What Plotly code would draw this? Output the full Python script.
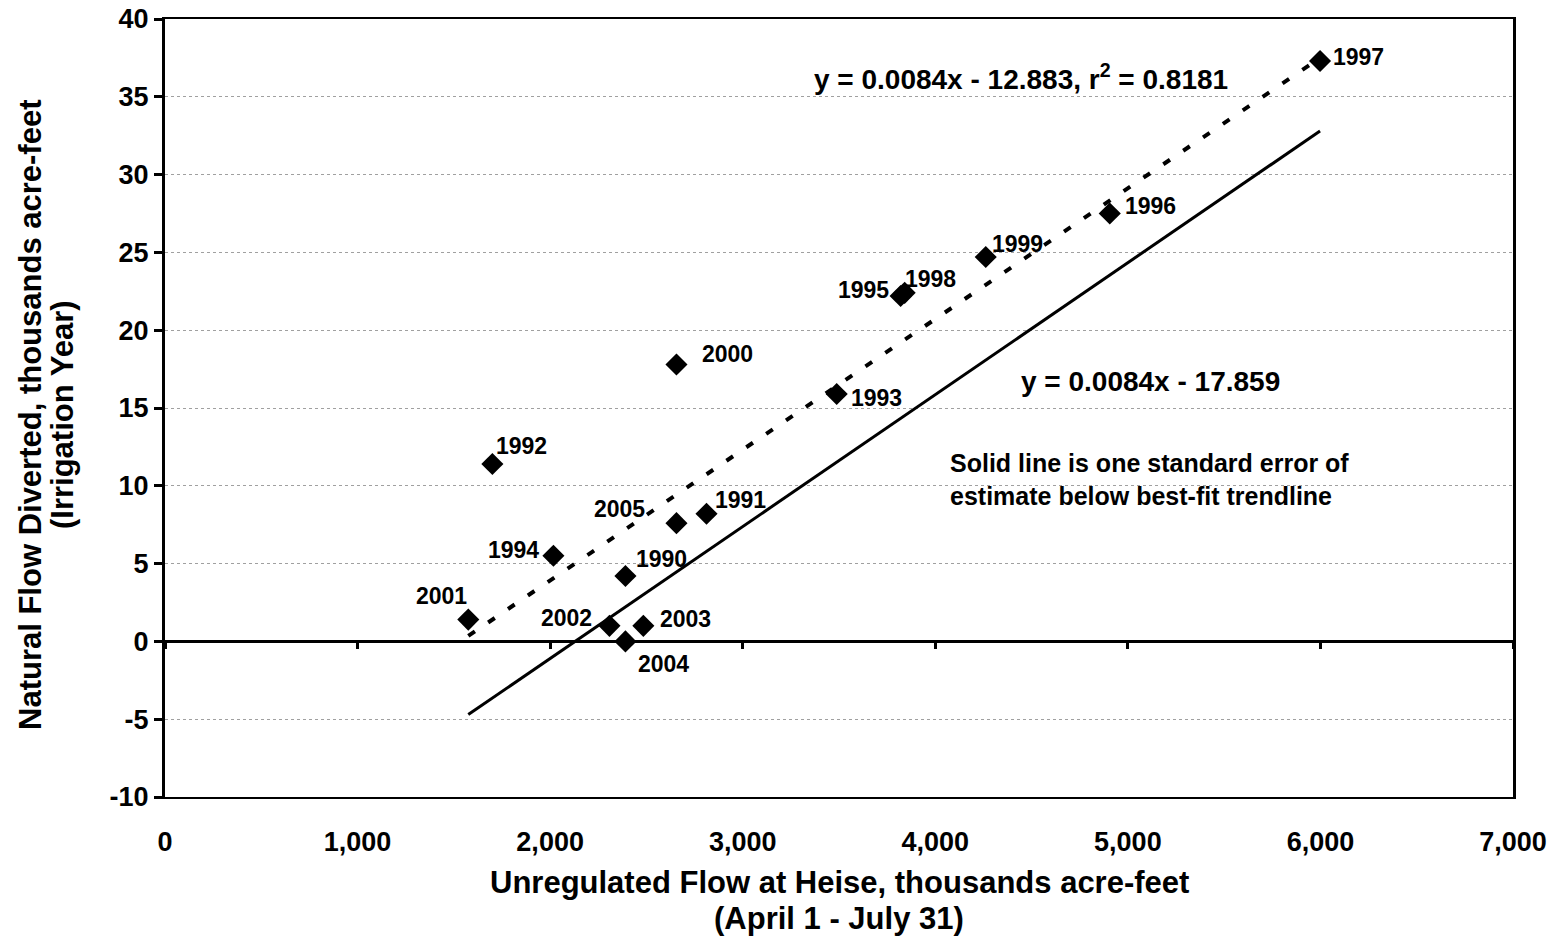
import plotly.graph_objects as go

# ---- data ----
years = ["2001", "1992", "1994", "2002", "2004", "1990", "2003", "2000", "2005",
         "1991", "1993", "1995", "1998", "1999", "1996", "1997"]
flow_heise = [1575, 1700, 2017, 2308, 2391, 2391, 2484, 2656, 2656,
              2812, 3488, 3820, 3841, 4262, 4906, 5998]
natural_flow = [1.4, 11.4, 5.5, 1.0, 0.0, 4.2, 1.0, 17.8, 7.6,
                8.2, 15.9, 22.2, 22.4, 24.7, 27.5, 37.3]

# label offsets (pixels) for each year label
label_dx = [-27, 29, -40, -43, 38, 36, 42, 51, -57, 34, 40, -37, 26, 32, 41, 38]
label_dy = [24, 18, 6, 8, -23, 17, 7, 10, 14, 14, -4, 6, 14, 13, 8, 4]

# best-fit trendline endpoints (dotted) and one-standard-error line (solid)
fit_x = [1575, 5998]
fit_y = [0.35, 37.5]
se_x = [1575, 5998]
se_y = [-4.7, 32.8]

x_ticks = [0, 1000, 2000, 3000, 4000, 5000, 6000, 7000]
x_tick_text = ["0", "1,000", "2,000", "3,000", "4,000", "5,000", "6,000", "7,000"]
y_ticks = [-10, -5, 0, 5, 10, 15, 20, 25, 30, 35, 40]
y_tick_text = ["-10", "-5", "0", "5", "10", "15", "20", "25", "30", "35", "40"]

FONT = "Liberation Sans, Arial, sans-serif"

fig = go.Figure()

fig.add_trace(go.Scatter(
    x=fit_x, y=fit_y, mode="lines",
    line=dict(color="black", width=4, dash="8px,16px"),
    showlegend=False, hoverinfo="skip"))

fig.add_trace(go.Scatter(
    x=se_x, y=se_y, mode="lines",
    line=dict(color="black", width=3),
    showlegend=False, hoverinfo="skip"))

fig.add_trace(go.Scatter(
    x=flow_heise, y=natural_flow, mode="markers",
    marker=dict(symbol="diamond", size=17, color="black"),
    showlegend=False))

# invisible helper trace for tick marks on the zero line
fig.add_trace(go.Scatter(x=[0], y=[0], xaxis="x2", mode="markers",
                         marker=dict(opacity=0), showlegend=False, hoverinfo="skip"))

annotations = []
for yr, xv, yv, dx, dy in zip(years, flow_heise, natural_flow, label_dx, label_dy):
    annotations.append(dict(
        x=xv, y=yv, xref="x", yref="y", text=yr, showarrow=False,
        xshift=dx, yshift=dy,
        font=dict(family=FONT, size=23, color="black", weight="bold")))

title_font = dict(family=FONT, size=31, color="black", weight="bold")
annotations += [
    dict(x=4443, y=36.3, xref="x", yref="y",
         text="y = 0.0084x - 12.883, r<sup>2</sup> = 0.8181", showarrow=False,
         font=dict(family=FONT, size=28, color="black", weight="bold")),
    dict(x=5119, y=16.7, xref="x", yref="y",
         text="y = 0.0084x - 17.859", showarrow=False,
         font=dict(family=FONT, size=28, color="black", weight="bold")),
    dict(x=5110, y=10.4, xref="x", yref="y",
         text="Solid line is one standard error of<br>estimate below best-fit trendline",
         showarrow=False, align="left",
         font=dict(family=FONT, size=25, color="black", weight="bold")),
    dict(x=0.5, y=0, xref="paper", yref="paper", yanchor="middle", yshift=-85,
         text="Unregulated Flow at Heise, thousands acre-feet",
         showarrow=False, font=title_font),
    dict(x=0.5, y=0, xref="paper", yref="paper", yanchor="middle", yshift=-121,
         text="(April 1 - July 31)", showarrow=False, font=title_font),
    dict(x=0, y=0.491, xref="paper", yref="paper", xanchor="center", xshift=-135,
         text="Natural Flow Diverted, thousands acre-feet",
         textangle=-90, showarrow=False, font=title_font),
    dict(x=0, y=0.491, xref="paper", yref="paper", xanchor="center", xshift=-103,
         text="(Irrigation Year)",
         textangle=-90, showarrow=False, font=title_font),
]

fig.update_layout(
    width=1558, height=939,
    margin=dict(l=165, r=45, t=19, b=142),
    paper_bgcolor="white", plot_bgcolor="white",
    font=dict(family=FONT, color="black"),
    annotations=annotations,
    xaxis=dict(
        range=[0, 7000], tickvals=x_ticks, ticktext=x_tick_text,
        showgrid=False, zeroline=False, ticks="", automargin=False,
        showline=True, linecolor="black", linewidth=2, mirror=True,
        ticklabelstandoff=20,
        tickfont=dict(family=FONT, size=27, color="black", weight="bold")),
    xaxis2=dict(
        overlaying="x", matches="x", anchor="free", position=0.2,
        tickvals=x_ticks, showticklabels=False, ticks="outside",
        ticklen=7, tickwidth=3, tickcolor="black", automargin=False,
        showline=False, showgrid=False, zeroline=False),
    yaxis=dict(
        range=[-10, 40], tickvals=y_ticks, ticktext=y_tick_text, automargin=False,
        showgrid=True, gridcolor="#a0a0a0", gridwidth=1, griddash="dot",
        zeroline=True, zerolinecolor="black", zerolinewidth=3,
        showline=True, linecolor="black", linewidth=3, mirror=True,
        ticks="outside", ticklen=8, tickwidth=3, tickcolor="black",
        tickfont=dict(family=FONT, size=27, color="black", weight="bold")),
)

fig.write_html("out.html",
               config={"displayModeBar": False},
               post_script="document.body.style.margin='0';document.body.style.overflow='hidden';")
